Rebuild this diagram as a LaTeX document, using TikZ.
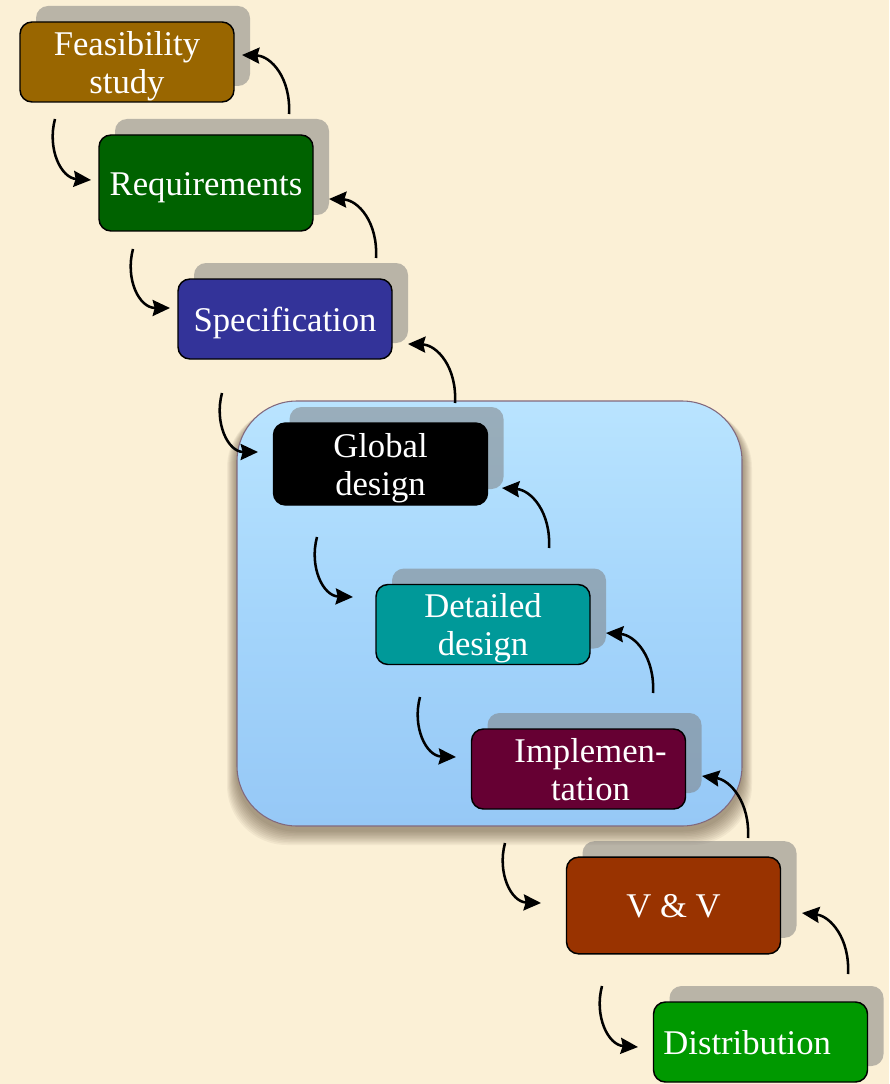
\documentclass[tikz,border=0pt]{standalone}
\usepackage{fontspec}
\setmainfont{Liberation Serif}
\usetikzlibrary{arrows.meta,shadows,calc}
\definecolor{bgc}{RGB}{251,240,214}
\definecolor{feas}{RGB}{153,102,0}
\definecolor{req}{RGB}{0,98,0}
\definecolor{spec}{RGB}{51,51,153}
\definecolor{glob}{RGB}{0,0,0}
\definecolor{detl}{RGB}{0,153,153}
\definecolor{impl}{RGB}{102,0,51}
\definecolor{vv}{RGB}{153,51,0}
\definecolor{dist}{RGB}{0,153,0}
\definecolor{bluetop}{RGB}{185,228,255}
\definecolor{bluebot}{RGB}{150,200,246}
\definecolor{bluemid}{RGB}{164,213,251}
\definecolor{blueedge}{RGB}{130,105,125}
\definecolor{shadc}{RGB}{125,125,125}
\newcommand{\lbl}[1]{\raisebox{-3.5pt}[\height][\depth]{\begin{tabular}{@{}c@{}}#1\end{tabular}}}
\begin{document}
\begin{tikzpicture}[x=0.75pt,y=-0.75pt,
  stage/.style={draw=black, line width=1.1pt, rounded corners=9pt,
    minimum width=160.5pt, minimum height=60pt, inner sep=0pt,
    text=white, font=\fontsize{26}{28.5}\selectfont,
    general shadow={fill=shadc, fill opacity=0.52, shadow xshift=12pt, shadow yshift=12pt}},
  flow/.style={line width=1.9pt, -{Stealth[length=13pt,width=12pt,inset=1.5pt]}},
  phase/.style={rounded corners=45pt, draw=blueedge, line width=0.8pt,
    top color=bluetop, bottom color=bluebot, middle color=bluemid}]
\useasboundingbox (0,0) rectangle (889,1084);
\fill[bgc] (0,0) rectangle (889,1084);

% shadow of the phase box
\foreach \i in {1,...,10}{
  \fill[black!70!brown, fill opacity=0.05, rounded corners=45pt]
    (237-\i*1.0,401+4+\i*0.3) rectangle (742+\i*1.0,826+4+\i*1.5);
}
\path[phase] (237,401) rectangle (742,826);

% stages
\node[stage, fill=feas] (b1) at (127,62) {\lbl{Feasibility\\study}};
\node[stage, fill=req, minimum height=72pt] (b2) at (206,183) {\lbl{Requirements}};
\node[stage, fill=spec] (b3) at (285,319) {\lbl{Specification}};
\node[stage, fill=glob, minimum height=61.5pt] (b4) at (380.5,464) {\lbl{Global\\design}};
\node[stage, fill=detl] (b5) at (483,624.5) {\lbl{Detailed\\design}};
\node[stage, fill=impl] (b6) at (578.5,769) {\lbl{\hspace*{18pt}Implemen-\\\hspace*{18pt}tation}};
\node[stage, fill=vv, minimum height=72.5pt] (b7) at (673.5,905.5) {\lbl{V \& V}};
\node[stage, fill=dist] (b8) at (760.5,1042) {\lbl{Distribution\hspace*{20pt}}};

% down arrows (start / end coordinates)
\coordinate (d1s) at (55,119);  \coordinate (d1e) at (91,180);
\coordinate (d2s) at (133,249); \coordinate (d2e) at (170,308);
\coordinate (d3s) at (222,393); \coordinate (d3e) at (258,452);
\coordinate (d4s) at (317,537); \coordinate (d4e) at (353,597);
\coordinate (d5s) at (420,697); \coordinate (d5e) at (456,757);
\coordinate (d6s) at (505,843); \coordinate (d6e) at (541,903);
\coordinate (d7s) at (602,986); \coordinate (d7e) at (638,1047);
\foreach \k in {1,...,7}{
  \draw[flow] (d\k s) .. controls ($(d\k s)+(-8,30)$) and ($(d\k s)+(6,59)$) .. (d\k e);
}
% up arrows
\coordinate (u1s) at (289,114);  \coordinate (u1e) at (242,55);
\coordinate (u2s) at (376,258);  \coordinate (u2e) at (329,199);
\coordinate (u3s) at (455,403);  \coordinate (u3e) at (408,344);
\coordinate (u4s) at (549,548);  \coordinate (u4e) at (502,488);
\coordinate (u5s) at (653,693);  \coordinate (u5e) at (606,633);
\coordinate (u6s) at (748,838);  \coordinate (u6e) at (702,776);
\coordinate (u7s) at (848,974);  \coordinate (u7e) at (802,913);
\foreach \k in {1,...,7}{
  \draw[flow] (u\k s) .. controls ($(u\k s)+(2,-36)$) and ($(u\k s)+(-18,-58)$) .. (u\k e);
}
\end{tikzpicture}
\end{document}
